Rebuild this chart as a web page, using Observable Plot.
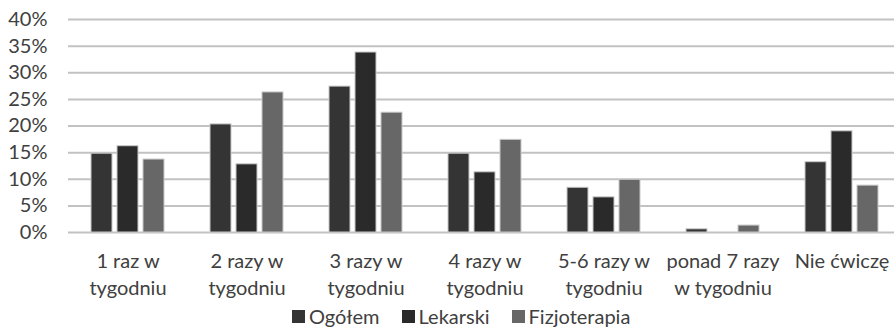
<!DOCTYPE html>
<html>
<head>
<meta charset="utf-8">
<script src="https://cdn.jsdelivr.net/npm/d3@7"></script>
<script src="https://cdn.jsdelivr.net/npm/@observablehq/plot@0.6"></script>
<style>
  html, body { margin: 0; padding: 0; background: #fff; }
  #chart { width: 894px; height: 328px; overflow: hidden; position: relative; }
  #chart > svg { display: block; }
  #chart .legend { display: flex; align-items: center; height: 19px; min-height: 19px !important; margin: -4px 0 0 292px !important; }
  #chart .legend span { margin-right: 22px !important; }
  #chart .legend span > svg { margin-right: 4px !important; }
</style>
</head>
<body>
<div id="chart"></div>
<script>
const categories = ["1 raz w\ntygodniu", "2 razy w\ntygodniu", "3 razy w\ntygodniu", "4 razy w\ntygodniu", "5-6 razy w\ntygodniu", "ponad 7 razy\nw tygodniu", "Nie ćwiczę"];
const seriesNames = ["Ogółem", "Lekarski", "Fizjoterapia"];
const ogolem =       [14.8, 20.3, 27.4, 14.8, 8.4, 0.6, 13.2];
const lekarski =     [16.2, 12.8, 33.8, 11.3, 6.6, 0.0, 19.0];
const fizjoterapia = [13.7, 26.3, 22.5, 17.4, 9.9, 1.3, 8.8];
const yTicks = [0, 5, 10, 15, 20, 25, 30, 35, 40];
const seriesColors = ["#343434", "#2a2a2a", "#676767"];

const seriesValues = [ogolem, lekarski, fizjoterapia];
const data = categories.flatMap((c, i) =>
  seriesNames.map((s, j) => ({category: c, series: s, value: seriesValues[j][i]}))
);

const font = "Lato, 'Open Sans', sans-serif";

const plot = Plot.plot({
  width: 894,
  height: 308,
  marginTop: 19,
  marginBottom: 76,
  marginLeft: 67,
  marginRight: -8,
  style: {fontFamily: font, fontSize: "20px", color: "#404040", background: "#fff"},
  fx: {domain: categories, padding: 0, label: null},
  x: {domain: seriesNames, axis: null, paddingInner: 0.2, paddingOuter: 0.85},
  y: {domain: [0, 40], axis: null},
  color: {domain: seriesNames, range: seriesColors},
  marks: [
    Plot.gridY(yTicks, {stroke: "#c2c2c2", strokeOpacity: 1, strokeWidth: 2}),
    Plot.barY(data, {fx: "category", x: "series", y: "value", fill: "series", stroke: "#c8c8c8", strokeWidth: 1}),
    Plot.axisY(yTicks, {tickSize: 0, tickPadding: 21, tickFormat: d => d + "%", fill: "#404040", label: null}),
    Plot.axisFx({anchor: "bottom", tickSize: 0, tickPadding: 17, label: null, lineHeight: 1.33, fill: "#404040"})
  ]
});

const chart = document.getElementById("chart");
chart.appendChild(plot);

const legend = plot.legend("color", {
  swatchSize: 13,
  className: "legend",
  style: {fontFamily: font, fontSize: "20px", color: "#404040"}
});
legend.classList.add("legend");
chart.appendChild(legend);
</script>
</body>
</html>
